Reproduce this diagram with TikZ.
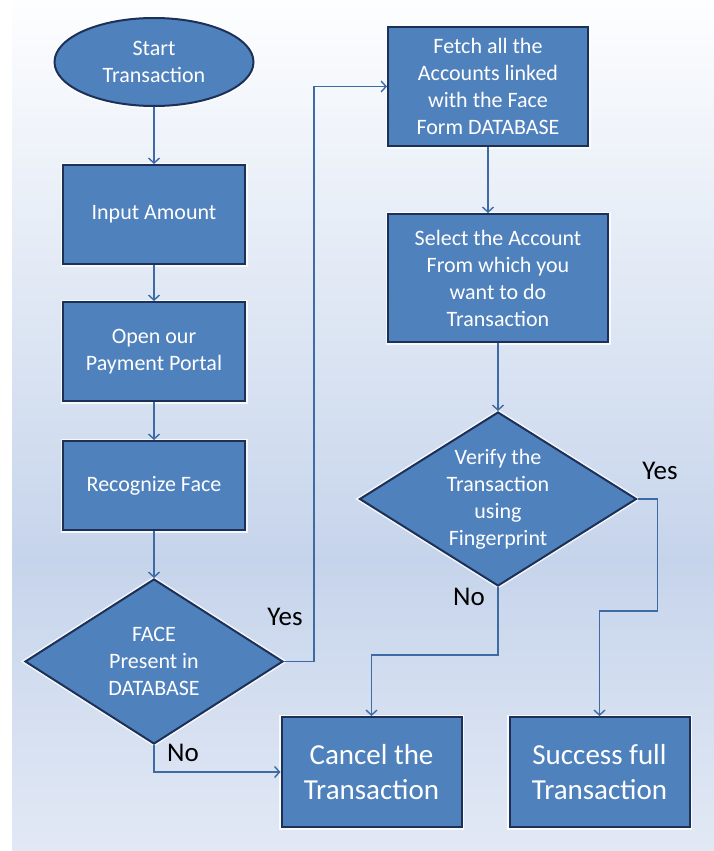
\documentclass[tikz,border=0pt]{standalone}
\usepackage{fontspec}
\setmainfont{Carlito}
\usepackage{tikz}
\usetikzlibrary{shapes.geometric, arrows.meta, positioning}
\definecolor{boxfill}{RGB}{79, 129, 189}
\definecolor{boxline}{RGB}{28, 48, 88}
\definecolor{flowline}{RGB}{62, 106, 166}
\definecolor{bgtop}{RGB}{253, 254, 255}
\definecolor{bgmid}{RGB}{198, 212, 235}
\definecolor{bgbot}{RGB}{226, 233, 245}

\begin{document}
\begin{tikzpicture}[
    x=1pt, y=1pt,
    base/.style={draw=boxline, line width=2pt, fill=boxfill, text=white, align=center, inner sep=0pt, font=\fontsize{22}{27}\selectfont, preaction={draw=white, line width=5pt, opacity=0.8}},
    box/.style={base, rectangle, minimum width=#1, minimum height=99pt},
    startnode/.style={base, ellipse, minimum width=199pt, minimum height=88pt},
    decision/.style={base, diamond, aspect=1.56},
    endbox/.style={base, rectangle, minimum width=180pt, minimum height=110pt, font=\fontsize{29}{35}\selectfont},
    lbl/.style={inner sep=0pt, text=black, font=\fontsize{27}{32}\selectfont},
    flow/.style={-{Straight Barb[length=5pt, width=11pt]}, draw=flowline, line width=1.4pt}
]
    % background panel
    \useasboundingbox (0,0) rectangle (714,-851);
    \fill[white] (0,0) rectangle (714,-851);
    \shade[top color=bgtop, bottom color=bgmid] (12,0) rectangle (714,-560);
    \shade[top color=bgmid, bottom color=bgbot] (12,-560.5) rectangle (714,-851);

    % left column
    \node[startnode] (start) at (154,-62) {Start\\Transaction};
    \node[box=182pt, below=57pt of start] (input) {Input Amount};
    \node[box=182pt, below=36pt of input] (portal) {Open our\\Payment Portal};
    \node[box=182pt, minimum height=89pt, below=38pt of portal] (recog) {Recognize Face};
    \node[decision, minimum width=258pt, minimum height=165pt, below=47pt of recog] (face) {FACE\\Present in\\DATABASE};

    % right column
    \node[box=200pt, minimum height=119pt] (fetch) at (488,-86.5) {Fetch all the\\Accounts linked\\with the Face\\Form DATABASE};
    \node[box=220pt, minimum height=128pt, below=66pt of fetch, xshift=10pt] (select) {Select the Account\\From which you\\want to do\\Transaction};
    \node[decision, minimum width=277pt, minimum height=174pt, below=68pt of select] (verify) {Verify the\\Transaction\\using\\Fingerprint};

    % results
    \node[endbox] (cancel) at (371.5,-772) {Cancel the\\Transaction};
    \node[endbox, right=46pt of cancel] (success) {Success full\\Transaction};

    % labels
    \node[lbl] (yesface) at (285,-617) {Yes};
    \node[lbl] (noface) at (183,-753) {No};
    \node[lbl] (yesverify) at (660,-471) {Yes};
    \node[lbl] (noverify) at (469,-597) {No};

    \draw[flow] (start) -- (input);
    \draw[flow] (input) -- (portal);
    \draw[flow] (portal) -- (recog);
    \draw[flow] (recog) -- (face);
    \draw[flow] (face.east) -- ++(30,0) |- (fetch.west);
    \draw[flow] (fetch.south) -- (fetch.south |- select.north);
    \draw[flow] (select) -- (verify);
    \draw[flow] (verify.east) -- ++(20,0) -- ++(0,-112) -| (success.north);
    \draw[flow] (verify.south) -- ++(0,-68) -| (cancel.north);
    \draw[flow] (face.south) |- (cancel.west);
\end{tikzpicture}
\end{document}
